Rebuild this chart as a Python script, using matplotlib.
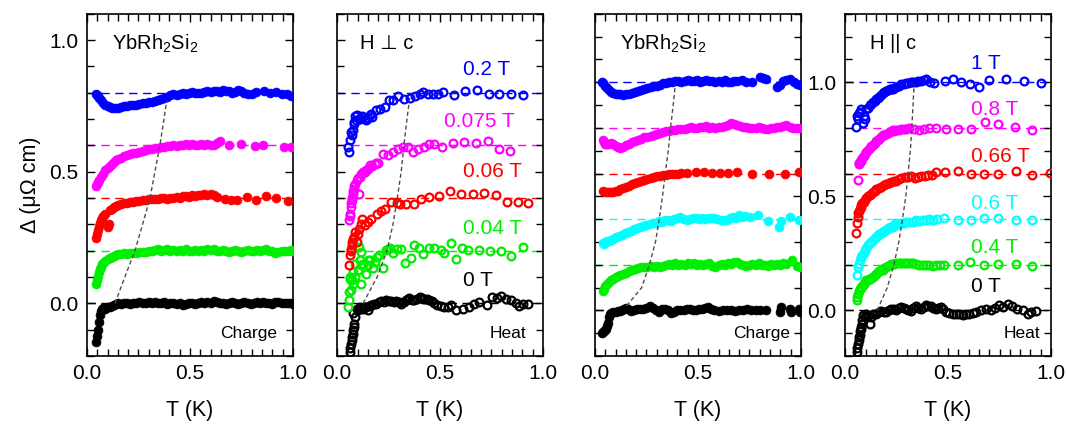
import matplotlib
matplotlib.use("Agg")
import matplotlib.pyplot as plt
from matplotlib.ticker import MultipleLocator

plt.rcParams['font.family'] = ['Liberation Sans', 'DejaVu Sans']
plt.rcParams['mathtext.fontset'] = 'custom'
plt.rcParams['mathtext.rm'] = 'Liberation Sans'
plt.rcParams['mathtext.it'] = 'Liberation Sans:italic'

# ---------------- Panel 1: charge, H perp c (filled) ----------------
T1_dense = [
    0.045, 0.05, 0.055, 0.06, 0.065, 0.07, 0.075, 0.08, 0.09, 0.10,
    0.11, 0.12, 0.13, 0.14, 0.15, 0.165, 0.18, 0.195, 0.21, 0.225,
    0.24, 0.255, 0.27, 0.285, 0.30, 0.315, 0.33, 0.345, 0.36, 0.375,
    0.39, 0.405, 0.42, 0.435, 0.45, 0.465, 0.48, 0.495, 0.51, 0.525,
    0.54, 0.555, 0.57, 0.585, 0.60, 0.615, 0.63, 0.645, 0.66, 0.675,
    0.69, 0.705, 0.72, 0.735, 0.75, 0.765, 0.78, 0.795, 0.81, 0.825,
    0.84, 0.855, 0.87, 0.885, 0.90, 0.915, 0.93, 0.945, 0.96, 0.975,
    0.99, 1.0]
D1_0T = [
    -0.145, -0.125, -0.10, -0.07, -0.045, -0.03, -0.022, -0.018, -0.02, -0.015,
    -0.012, -0.01, -0.008, -0.004, 0.0, -0.002, 0.002, 0.0, -0.004, 0.0,
    0.003, 0.005, 0.0, 0.002, 0.004, 0.0, 0.006, 0.003, 0.0, 0.004,
    -0.002, 0.0, 0.003, -0.004, 0.0, -0.006, -0.003, 0.0, 0.002, -0.003,
    0.0, 0.004, 0.002, 0.006, 0.0, 0.008, 0.004, 0.0, 0.003, -0.003,
    0.0, 0.004, 0.0, -0.004, 0.002, 0.005, 0.0, -0.003, 0.002, 0.004,
    0.0, 0.006, 0.002, 0.0, -0.002, 0.004, 0.006, 0.002, 0.0, 0.003,
    0.0, -0.002]
D1_004T = [
    0.075, 0.09, 0.105, 0.12, 0.13, 0.14, 0.148, 0.155, 0.162, 0.168,
    0.172, 0.176, 0.18, 0.183, 0.186, 0.188, 0.19, 0.188, 0.192, 0.19,
    0.193, 0.195, 0.197, 0.195, 0.2, 0.198, 0.202, 0.205, 0.2, 0.203,
    0.206, 0.2, 0.204, 0.198, 0.202, 0.2, 0.205, 0.198, 0.2, 0.202,
    0.199, 0.203, 0.2, 0.205, 0.202, 0.206, 0.2, 0.198, 0.203, 0.2,
    0.197, 0.2, 0.203, 0.199, 0.196, 0.2, 0.202, 0.198, 0.2, 0.203,
    0.2, 0.204, 0.206, 0.2, 0.198, 0.19, 0.195, 0.2, 0.198, 0.2,
    0.202, 0.2]
T1_006T = [
    0.045, 0.05, 0.055, 0.06, 0.065, 0.07, 0.075, 0.08, 0.09, 0.10,
    0.105, 0.11, 0.12, 0.13, 0.14, 0.15, 0.165, 0.18, 0.195, 0.21,
    0.225, 0.24, 0.255, 0.27, 0.285, 0.30, 0.315, 0.33, 0.345, 0.36,
    0.375, 0.39, 0.405, 0.42, 0.435, 0.45, 0.465, 0.48, 0.495, 0.51,
    0.525, 0.54, 0.555, 0.57, 0.585, 0.60, 0.615, 0.63, 0.67, 0.70,
    0.73, 0.775, 0.82, 0.87, 0.92, 0.975]
D1_006T = [
    0.25, 0.265, 0.28, 0.295, 0.305, 0.315, 0.325, 0.33, 0.34, 0.29,
    0.30, 0.355, 0.36, 0.365, 0.37, 0.373, 0.376, 0.38, 0.383, 0.385,
    0.386, 0.388, 0.39, 0.392, 0.393, 0.395, 0.396, 0.398, 0.397, 0.4,
    0.4, 0.398, 0.402, 0.4, 0.404, 0.402, 0.406, 0.408, 0.405, 0.41,
    0.408, 0.412, 0.41, 0.415, 0.413, 0.416, 0.41, 0.405, 0.395, 0.393,
    0.393, 0.405, 0.393, 0.407, 0.4, 0.39]
T1_0075T = [
    0.045, 0.05, 0.055, 0.06, 0.07, 0.08, 0.09, 0.10, 0.11, 0.12,
    0.13, 0.14, 0.15, 0.165, 0.18, 0.195, 0.21, 0.225, 0.24, 0.255,
    0.27, 0.285, 0.30, 0.315, 0.33, 0.345, 0.36, 0.375, 0.39, 0.405,
    0.42, 0.435, 0.45, 0.465, 0.48, 0.495, 0.51, 0.525, 0.54, 0.555,
    0.57, 0.585, 0.60, 0.615, 0.63, 0.645, 0.69, 0.75, 0.815, 0.855,
    0.955, 0.99]
D1_0075T = [
    0.445, 0.452, 0.46, 0.468, 0.48, 0.492, 0.505, 0.515, 0.522, 0.53,
    0.537, 0.543, 0.548, 0.553, 0.558, 0.562, 0.566, 0.57, 0.573, 0.576,
    0.578, 0.582, 0.585, 0.588, 0.59, 0.592, 0.594, 0.593, 0.596, 0.598,
    0.6, 0.597, 0.602, 0.6, 0.604, 0.6, 0.606, 0.603, 0.6, 0.605,
    0.602, 0.607, 0.603, 0.6, 0.61, 0.616, 0.603, 0.606, 0.596, 0.6,
    0.593, 0.593]
T1_02T = [
    0.045, 0.05, 0.055, 0.06, 0.07, 0.08, 0.09, 0.10, 0.11, 0.12,
    0.135, 0.15, 0.165, 0.18, 0.195, 0.21, 0.225, 0.24, 0.255, 0.27,
    0.285, 0.30, 0.315, 0.33, 0.345, 0.36, 0.375, 0.39, 0.405, 0.42,
    0.435, 0.45, 0.465, 0.48, 0.495, 0.51, 0.525, 0.54, 0.555, 0.57,
    0.585, 0.60, 0.615, 0.63, 0.645, 0.66, 0.675, 0.69, 0.705, 0.72,
    0.735, 0.75, 0.765, 0.78, 0.80, 0.82, 0.86, 0.89, 0.92, 0.945,
    0.97, 0.99]
D1_02T = [
    0.795, 0.792, 0.788, 0.782, 0.772, 0.762, 0.755, 0.75, 0.746, 0.744,
    0.743, 0.744, 0.745, 0.748, 0.75, 0.752, 0.755, 0.754, 0.758, 0.76,
    0.762, 0.765, 0.766, 0.77, 0.773, 0.777, 0.78, 0.785, 0.79, 0.795,
    0.79, 0.796, 0.8, 0.797, 0.8, 0.803, 0.798, 0.801, 0.8, 0.804,
    0.805, 0.802, 0.806, 0.808, 0.803, 0.81, 0.806, 0.805, 0.8, 0.802,
    0.812, 0.808, 0.8, 0.797, 0.796, 0.802, 0.805, 0.8, 0.802, 0.796,
    0.795, 0.786]
TS1_T = [0.136, 0.184, 0.233, 0.27, 0.306, 0.33, 0.354, 0.374, 0.387]
TS1_D = [0.0, 0.1, 0.2, 0.3, 0.4, 0.5, 0.6, 0.7, 0.77]

# ---------------- Panel 2: heat, H perp c (open) ----------------
T2_0T = [
    0.063, 0.065, 0.068, 0.071, 0.074, 0.077, 0.079, 0.082, 0.084, 0.087,
    0.079, 0.095, 0.103, 0.111, 0.119, 0.127, 0.135, 0.143, 0.151, 0.159,
    0.167, 0.179, 0.191, 0.203, 0.215, 0.228, 0.24, 0.252, 0.264, 0.276,
    0.288, 0.30, 0.312, 0.324, 0.336, 0.344, 0.352, 0.364, 0.376, 0.39,
    0.405, 0.415, 0.424, 0.436, 0.448, 0.46, 0.472, 0.488, 0.504, 0.52,
    0.537, 0.554, 0.578, 0.61, 0.643, 0.667, 0.69, 0.731, 0.752, 0.775,
    0.795, 0.82, 0.844, 0.868, 0.884, 0.903, 0.929]
D2_0T = [
    -0.185, -0.17, -0.154, -0.14, -0.128, -0.115, -0.103, -0.09, -0.077, -0.052,
    -0.035, -0.02, -0.025, -0.014, -0.018, -0.02, -0.012, -0.014, -0.027, -0.01,
    -0.008, -0.004, -0.002, 0.004, 0.009, 0.006, 0.011, 0.01, 0.008, 0.006,
    0.009, 0.004, -0.002, 0.006, 0.011, 0.015, 0.021, 0.012, 0.014, 0.018,
    0.024, 0.02, 0.018, 0.016, 0.014, 0.008, 0.001, -0.006, -0.01, -0.012,
    -0.014, -0.008, -0.024, -0.02, -0.014, -0.001, 0.005, -0.008, 0.024, 0.02,
    0.027, 0.018, 0.011, 0.001, -0.011, -0.004, -0.004]
T2_004T = [
    0.055, 0.058, 0.06, 0.068, 0.063, 0.063, 0.074, 0.079, 0.079, 0.087,
    0.09, 0.103, 0.116, 0.111, 0.119, 0.107, 0.119, 0.127, 0.143, 0.151,
    0.151, 0.159, 0.175, 0.183, 0.196, 0.205, 0.224, 0.24, 0.248, 0.256,
    0.272, 0.293, 0.312, 0.329, 0.36, 0.376, 0.40, 0.42, 0.448, 0.472,
    0.504, 0.52, 0.554, 0.578, 0.607, 0.634, 0.69, 0.742, 0.795, 0.847,
    0.903]
D2_004T = [
    -0.014, 0.011, 0.043, 0.049, 0.094, 0.10, 0.087, 0.119, 0.075, 0.151,
    0.10, 0.125, 0.075, 0.164, 0.196, 0.214, 0.144, 0.151, 0.113, 0.145,
    0.163, 0.164, 0.136, 0.158, 0.177, 0.183, 0.136, 0.202, 0.208, 0.209,
    0.19, 0.205, 0.205, 0.155, 0.174, 0.221, 0.209, 0.187, 0.211, 0.209,
    0.202, 0.19, 0.228, 0.17, 0.21, 0.204, 0.204, 0.20, 0.199, 0.179,
    0.214]
T2_006T = [
    0.058, 0.063, 0.066, 0.068, 0.071, 0.074, 0.079, 0.084, 0.09, 0.095,
    0.10, 0.107, 0.115, 0.123, 0.135, 0.151, 0.167, 0.196, 0.215, 0.232,
    0.264, 0.29, 0.304, 0.337, 0.373, 0.409, 0.449, 0.494, 0.549, 0.602,
    0.659, 0.715, 0.771, 0.828, 0.879, 0.929]
D2_006T = [
    0.144, 0.182, 0.20, 0.208, 0.22, 0.233, 0.245, 0.252, 0.27, 0.233,
    0.265, 0.284, 0.30, 0.322, 0.297, 0.309, 0.322, 0.341, 0.35, 0.36,
    0.385, 0.38, 0.376, 0.379, 0.376, 0.398, 0.404, 0.407, 0.427, 0.417,
    0.417, 0.42, 0.411, 0.385, 0.385, 0.383]
T2_0075T = [
    0.06, 0.063, 0.065, 0.066, 0.07, 0.071, 0.075, 0.076, 0.08, 0.082,
    0.085, 0.087, 0.095, 0.10, 0.108, 0.111, 0.118, 0.127, 0.135, 0.143,
    0.15, 0.159, 0.17, 0.184, 0.19, 0.20, 0.224, 0.248, 0.272, 0.296,
    0.32, 0.345, 0.369, 0.393, 0.425, 0.449, 0.473, 0.51, 0.562, 0.618,
    0.675, 0.734, 0.787, 0.839]
D2_0075T = [
    0.316, 0.341, 0.33, 0.366, 0.38, 0.392, 0.40, 0.417, 0.425, 0.436,
    0.445, 0.455, 0.468, 0.475, 0.417, 0.48, 0.49, 0.499, 0.50, 0.506,
    0.51, 0.525, 0.52, 0.531, 0.535, 0.534, 0.569, 0.563, 0.575, 0.588,
    0.594, 0.594, 0.575, 0.588, 0.594, 0.605, 0.607, 0.594, 0.61, 0.613,
    0.61, 0.616, 0.588, 0.579]
T2_02T = [
    0.056, 0.06, 0.063, 0.068, 0.071, 0.076, 0.082, 0.085, 0.09, 0.092,
    0.098, 0.105, 0.111, 0.12, 0.127, 0.135, 0.143, 0.15, 0.159, 0.165,
    0.172, 0.192, 0.208, 0.232, 0.253, 0.272, 0.296, 0.324, 0.353, 0.377,
    0.401, 0.42, 0.441, 0.465, 0.49, 0.514, 0.567, 0.623, 0.68, 0.736,
    0.787, 0.844, 0.903]
D2_02T = [
    0.594, 0.575, 0.62, 0.65, 0.639, 0.658, 0.681, 0.69, 0.71, 0.698,
    0.715, 0.70, 0.702, 0.71, 0.708, 0.70, 0.698, 0.705, 0.715, 0.72,
    0.708, 0.734, 0.74, 0.746, 0.774, 0.772, 0.787, 0.778, 0.782, 0.787,
    0.795, 0.804, 0.795, 0.795, 0.797, 0.804, 0.791, 0.807, 0.81, 0.795,
    0.797, 0.797, 0.791]
TS2_T = [0.127, 0.195, 0.243, 0.272, 0.293, 0.312, 0.325, 0.34, 0.353]
TS2_D = [0.0, 0.1, 0.2, 0.3, 0.4, 0.5, 0.6, 0.7, 0.78]

# ---------------- Panel 3: charge, H || c (filled) ----------------
T3_0T = [
    0.035, 0.04, 0.045, 0.05, 0.055, 0.06, 0.065, 0.07, 0.075, 0.08,
    0.09, 0.10, 0.11, 0.12, 0.13, 0.14, 0.15, 0.16, 0.175, 0.19,
    0.205, 0.22, 0.235, 0.25, 0.265, 0.28, 0.295, 0.31, 0.325, 0.34,
    0.355, 0.37, 0.385, 0.40, 0.415, 0.43, 0.445, 0.46, 0.475, 0.49,
    0.505, 0.52, 0.535, 0.55, 0.565, 0.58, 0.60, 0.62, 0.64, 0.66,
    0.68, 0.70, 0.72, 0.74, 0.76, 0.78, 0.80, 0.83, 0.90, 0.905,
    0.945, 0.95, 0.99, 0.995]
D3_0T = [
    -0.098, -0.095, -0.09, -0.088, -0.08, -0.07, -0.055, -0.03, -0.018, -0.01,
    -0.008, -0.006, -0.004, -0.002, 0.0, 0.005, 0.012, 0.006, -0.002, 0.0,
    0.005, 0.008, 0.004, 0.012, 0.02, 0.01, 0.0, -0.005, 0.005, 0.008,
    0.0, -0.012, -0.008, 0.0, 0.003, 0.0, 0.005, 0.007, 0.002, 0.0,
    0.004, 0.006, 0.01, 0.014, 0.006, 0.0, -0.002, 0.0, 0.0, 0.002,
    -0.004, 0.002, 0.003, 0.005, 0.002, 0.0, 0.0, 0.0, -0.007, 0.015,
    0.007, -0.007, 0.007, -0.007]
T3_04T = [
    0.04, 0.045, 0.05, 0.06, 0.07, 0.08, 0.09, 0.10, 0.11, 0.12,
    0.135, 0.15, 0.165, 0.18, 0.195, 0.21, 0.225, 0.24, 0.255, 0.27,
    0.285, 0.30, 0.315, 0.33, 0.345, 0.36, 0.375, 0.39, 0.405, 0.42,
    0.435, 0.45, 0.465, 0.48, 0.495, 0.51, 0.525, 0.54, 0.555, 0.57,
    0.585, 0.60, 0.615, 0.63, 0.645, 0.66, 0.675, 0.69, 0.705, 0.72,
    0.735, 0.75, 0.765, 0.78, 0.795, 0.81, 0.825, 0.84, 0.855, 0.87,
    0.885, 0.90, 0.915, 0.93, 0.955, 0.98, 0.995]
D3_04T = [
    0.085, 0.095, 0.105, 0.115, 0.125, 0.132, 0.138, 0.145, 0.15, 0.155,
    0.16, 0.165, 0.172, 0.176, 0.18, 0.185, 0.19, 0.188, 0.192, 0.195,
    0.19, 0.193, 0.19, 0.196, 0.2, 0.205, 0.2, 0.207, 0.2, 0.205,
    0.2, 0.208, 0.202, 0.206, 0.2, 0.204, 0.198, 0.202, 0.206, 0.195,
    0.192, 0.2, 0.205, 0.2, 0.208, 0.203, 0.21, 0.213, 0.205, 0.2,
    0.195, 0.2, 0.205, 0.2, 0.206, 0.198, 0.2, 0.195, 0.203, 0.2,
    0.205, 0.2, 0.206, 0.202, 0.22, 0.195, 0.192]
T3_06T = [
    0.04, 0.045, 0.05, 0.06, 0.07, 0.08, 0.09, 0.10, 0.115, 0.13,
    0.145, 0.16, 0.175, 0.19, 0.205, 0.22, 0.235, 0.25, 0.265, 0.28,
    0.295, 0.31, 0.325, 0.34, 0.355, 0.37, 0.385, 0.40, 0.415, 0.43,
    0.445, 0.46, 0.475, 0.49, 0.505, 0.52, 0.535, 0.55, 0.565, 0.58,
    0.595, 0.61, 0.625, 0.64, 0.655, 0.67, 0.685, 0.70, 0.715, 0.73,
    0.752, 0.79, 0.84, 0.895, 0.905, 0.945, 0.99]
D3_06T = [
    0.295, 0.29, 0.30, 0.302, 0.305, 0.31, 0.315, 0.322, 0.325, 0.33,
    0.338, 0.345, 0.35, 0.355, 0.362, 0.366, 0.37, 0.376, 0.38, 0.383,
    0.385, 0.39, 0.388, 0.395, 0.398, 0.392, 0.40, 0.405, 0.41, 0.402,
    0.396, 0.40, 0.404, 0.406, 0.402, 0.404, 0.40, 0.406, 0.403, 0.405,
    0.40, 0.398, 0.396, 0.398, 0.404, 0.41, 0.405, 0.418, 0.41, 0.412,
    0.408, 0.42, 0.39, 0.367, 0.392, 0.41, 0.396]
T3_066T = [
    0.04, 0.05, 0.06, 0.07, 0.08, 0.09, 0.10, 0.11, 0.12, 0.135,
    0.15, 0.165, 0.18, 0.195, 0.21, 0.225, 0.24, 0.255, 0.27, 0.285,
    0.30, 0.315, 0.33, 0.345, 0.36, 0.375, 0.39, 0.405, 0.42, 0.445,
    0.493, 0.529, 0.566, 0.607, 0.647, 0.688, 0.761, 0.846, 0.922, 0.992]
D3_066T = [
    0.522, 0.519, 0.517, 0.518, 0.52, 0.52, 0.522, 0.525, 0.53, 0.535,
    0.54, 0.546, 0.552, 0.558, 0.563, 0.567, 0.572, 0.577, 0.58, 0.584,
    0.587, 0.59, 0.592, 0.595, 0.597, 0.598, 0.60, 0.60, 0.602, 0.602,
    0.605, 0.605, 0.602, 0.602, 0.602, 0.605, 0.599, 0.599, 0.599, 0.605]
T3_08T = [
    0.04, 0.045, 0.05, 0.055, 0.06, 0.07, 0.08, 0.09, 0.10, 0.11,
    0.12, 0.135, 0.15, 0.165, 0.18, 0.195, 0.21, 0.225, 0.24, 0.255,
    0.27, 0.285, 0.30, 0.315, 0.33, 0.345, 0.36, 0.375, 0.39, 0.405,
    0.42, 0.435, 0.45, 0.465, 0.48, 0.495, 0.51, 0.525, 0.54, 0.555,
    0.57, 0.585, 0.60, 0.615, 0.63, 0.645, 0.66, 0.675, 0.69, 0.705,
    0.72, 0.735, 0.75, 0.765, 0.78, 0.795, 0.81, 0.825, 0.84, 0.855,
    0.87, 0.885, 0.90, 0.915, 0.93, 0.945, 0.96, 0.975, 0.99]
D3_08T = [
    0.745, 0.738, 0.73, 0.728, 0.73, 0.73, 0.732, 0.73, 0.72, 0.715,
    0.712, 0.718, 0.725, 0.73, 0.738, 0.742, 0.748, 0.752, 0.758, 0.76,
    0.765, 0.77, 0.772, 0.777, 0.78, 0.785, 0.787, 0.79, 0.792, 0.795,
    0.793, 0.797, 0.80, 0.803, 0.80, 0.798, 0.802, 0.806, 0.808, 0.80,
    0.803, 0.80, 0.806, 0.804, 0.81, 0.812, 0.822, 0.818, 0.812, 0.81,
    0.805, 0.802, 0.80, 0.798, 0.80, 0.803, 0.80, 0.797, 0.795, 0.798,
    0.80, 0.803, 0.805, 0.81, 0.812, 0.806, 0.80, 0.80, 0.798]
T3_1T = [
    0.035, 0.04, 0.05, 0.06, 0.07, 0.08, 0.09, 0.10, 0.11, 0.12,
    0.135, 0.15, 0.165, 0.18, 0.195, 0.21, 0.225, 0.24, 0.255, 0.27,
    0.285, 0.30, 0.315, 0.33, 0.345, 0.36, 0.375, 0.39, 0.405, 0.42,
    0.435, 0.45, 0.465, 0.48, 0.495, 0.51, 0.525, 0.54, 0.555, 0.57,
    0.585, 0.60, 0.615, 0.63, 0.645, 0.66, 0.675, 0.69, 0.712, 0.735,
    0.761, 0.80, 0.815, 0.833, 0.885, 0.90, 0.914, 0.93, 0.947, 0.965,
    0.982, 0.995]
D3_1T = [
    1.0, 0.995, 0.985, 0.975, 0.965, 0.958, 0.953, 0.95, 0.948, 0.947,
    0.946, 0.947, 0.95, 0.953, 0.957, 0.962, 0.966, 0.97, 0.975, 0.978,
    0.983, 0.985, 0.99, 0.995, 0.998, 1.0, 1.002, 1.004, 1.006, 1.0,
    1.004, 1.008, 1.006, 1.004, 1.008, 1.002, 1.006, 1.01, 1.004, 1.006,
    1.0, 1.004, 1.002, 1.008, 1.0, 1.001, 1.006, 1.004, 1.01, 1.003,
    1.001, 1.025, 1.02, 1.013, 0.981, 0.99, 1.006, 1.01, 1.013, 1.0,
    0.991, 0.988]
TS3_T = [0.154, 0.227, 0.264, 0.294, 0.312, 0.328, 0.341, 0.356, 0.367, 0.38, 0.39]
TS3_D = [0.02, 0.1, 0.2, 0.3, 0.4, 0.5, 0.6, 0.7, 0.8, 0.9, 0.99]

# ---------------- Panel 4: heat, H || c (open) ----------------
T4_0T = [
    0.058, 0.06, 0.063, 0.066, 0.069, 0.071, 0.074, 0.077, 0.079, 0.082,
    0.084, 0.087, 0.095, 0.103, 0.111, 0.119, 0.127, 0.135, 0.151, 0.163,
    0.175, 0.187, 0.20, 0.212, 0.224, 0.236, 0.248, 0.26, 0.272, 0.284,
    0.296, 0.308, 0.32, 0.332, 0.344, 0.356, 0.369, 0.381, 0.393, 0.405,
    0.417, 0.429, 0.441, 0.453, 0.465, 0.478, 0.49, 0.506, 0.522, 0.538,
    0.554, 0.572, 0.588, 0.604, 0.62, 0.636, 0.66, 0.684, 0.709, 0.727,
    0.746, 0.768, 0.792, 0.813, 0.837, 0.862, 0.886, 0.902, 0.926]
D4_0T = [
    -0.184, -0.165, -0.147, -0.13, -0.118, -0.11, -0.092, -0.08, -0.074, -0.06,
    -0.044, -0.022, -0.03, -0.015, -0.025, -0.059, -0.03, -0.015, -0.015, -0.008,
    -0.003, -0.006, -0.007, 0.0, 0.007, 0.004, 0.003, 0.009, 0.015, 0.01,
    0.007, 0.002, -0.003, 0.01, 0.018, 0.012, 0.007, 0.015, 0.022, 0.02,
    0.018, 0.012, 0.007, 0.011, 0.015, 0.004, -0.007, -0.01, -0.015, -0.016,
    -0.015, -0.022, -0.018, -0.015, -0.012, -0.006, 0.0, 0.007, 0.0, 0.012,
    0.022, 0.015, 0.026, 0.018, 0.007, 0.0, -0.018, -0.007, -0.003]
T4_04T = [
    0.058, 0.06, 0.063, 0.067, 0.071, 0.075, 0.079, 0.085, 0.09, 0.097,
    0.103, 0.111, 0.119, 0.127, 0.135, 0.143, 0.151, 0.159, 0.167, 0.175,
    0.183, 0.191, 0.20, 0.208, 0.216, 0.224, 0.232, 0.24, 0.248, 0.26,
    0.272, 0.284, 0.296, 0.308, 0.32, 0.332, 0.344, 0.36, 0.377, 0.393,
    0.409, 0.425, 0.441, 0.46, 0.48, 0.548, 0.607, 0.676, 0.741, 0.829,
    0.91]
D4_04T = [
    0.044, 0.06, 0.073, 0.085, 0.095, 0.10, 0.103, 0.11, 0.117, 0.125,
    0.132, 0.135, 0.139, 0.143, 0.147, 0.153, 0.161, 0.167, 0.173, 0.176,
    0.179, 0.184, 0.188, 0.193, 0.198, 0.202, 0.205, 0.203, 0.206, 0.208,
    0.209, 0.207, 0.209, 0.208, 0.209, 0.206, 0.203, 0.201, 0.198, 0.20,
    0.198, 0.196, 0.198, 0.199, 0.198, 0.198, 0.213, 0.198, 0.203, 0.203,
    0.195]
T4_06T = [
    0.058, 0.063, 0.067, 0.071, 0.077, 0.084, 0.09, 0.095, 0.103, 0.111,
    0.119, 0.127, 0.135, 0.143, 0.151, 0.159, 0.167, 0.175, 0.183, 0.191,
    0.20, 0.208, 0.216, 0.224, 0.232, 0.24, 0.248, 0.26, 0.272, 0.284,
    0.296, 0.312, 0.328, 0.344, 0.36, 0.377, 0.393, 0.409, 0.425, 0.445,
    0.481, 0.548, 0.612, 0.676, 0.741, 0.829, 0.91]
D4_06T = [
    0.154, 0.191, 0.205, 0.22, 0.232, 0.242, 0.253, 0.264, 0.275, 0.286,
    0.294, 0.301, 0.308, 0.316, 0.323, 0.33, 0.336, 0.34, 0.345, 0.348,
    0.352, 0.36, 0.367, 0.364, 0.367, 0.374, 0.382, 0.38, 0.385, 0.384,
    0.389, 0.386, 0.389, 0.394, 0.392, 0.397, 0.395, 0.40, 0.397, 0.40,
    0.404, 0.397, 0.396, 0.404, 0.404, 0.396, 0.396]
T4_066T = [
    0.055, 0.058, 0.061, 0.063, 0.067, 0.071, 0.075, 0.079, 0.084, 0.09,
    0.097, 0.103, 0.111, 0.119, 0.127, 0.135, 0.143, 0.151, 0.163, 0.175,
    0.187, 0.20, 0.212, 0.224, 0.236, 0.248, 0.262, 0.274, 0.29, 0.306,
    0.322, 0.338, 0.354, 0.37, 0.386, 0.403, 0.42, 0.44, 0.483, 0.548,
    0.612, 0.676, 0.741, 0.829, 0.91, 0.994]
D4_066T = [
    0.338, 0.385, 0.41, 0.425, 0.435, 0.443, 0.452, 0.462, 0.47, 0.477,
    0.485, 0.492, 0.50, 0.507, 0.512, 0.517, 0.525, 0.532, 0.538, 0.543,
    0.549, 0.555, 0.558, 0.561, 0.565, 0.568, 0.575, 0.58, 0.583, 0.585,
    0.59, 0.58, 0.586, 0.587, 0.59, 0.595, 0.593, 0.605, 0.605, 0.609,
    0.599, 0.599, 0.599, 0.609, 0.595, 0.602]
T4_08T = [
    0.063, 0.066, 0.068, 0.071, 0.075, 0.079, 0.084, 0.09, 0.097, 0.103,
    0.111, 0.119, 0.127, 0.135, 0.143, 0.151, 0.159, 0.167, 0.175, 0.183,
    0.191, 0.20, 0.208, 0.216, 0.224, 0.232, 0.24, 0.248, 0.26, 0.272,
    0.284, 0.296, 0.312, 0.336, 0.36, 0.385, 0.409, 0.441, 0.489, 0.546,
    0.612, 0.681, 0.744, 0.826, 0.91]
D4_08T = [
    0.573, 0.64, 0.646, 0.652, 0.655, 0.661, 0.668, 0.675, 0.685, 0.693,
    0.702, 0.712, 0.72, 0.727, 0.735, 0.742, 0.747, 0.752, 0.76, 0.767,
    0.77, 0.775, 0.778, 0.781, 0.786, 0.79, 0.788, 0.79, 0.792, 0.793,
    0.797, 0.795, 0.80, 0.793, 0.79, 0.795, 0.80, 0.80, 0.795, 0.793,
    0.793, 0.825, 0.815, 0.805, 0.789]
T4_1T = [
    0.055, 0.058, 0.063, 0.068, 0.074, 0.079, 0.085, 0.09, 0.095, 0.103,
    0.111, 0.119, 0.127, 0.135, 0.143, 0.151, 0.159, 0.167, 0.175, 0.183,
    0.191, 0.20, 0.208, 0.216, 0.224, 0.232, 0.24, 0.248, 0.26, 0.272,
    0.284, 0.296, 0.308, 0.32, 0.332, 0.344, 0.356, 0.369, 0.381, 0.393,
    0.412, 0.433, 0.483, 0.523, 0.564, 0.609, 0.652, 0.697, 0.781, 0.87,
    0.95]
D4_1T = [
    0.805, 0.852, 0.84, 0.866, 0.87, 0.881, 0.82, 0.85, 0.837, 0.881,
    0.888, 0.899, 0.905, 0.913, 0.919, 0.925, 0.93, 0.937, 0.944, 0.951,
    0.956, 0.962, 0.966, 0.969, 0.97, 0.972, 0.977, 0.981, 0.985, 0.991,
    0.994, 0.998, 0.999, 1.001, 1.0, 1.001, 1.004, 1.006, 1.008, 1.013,
    1.001, 0.998, 1.006, 1.013, 1.001, 0.991, 0.981, 1.01, 1.013, 1.006,
    0.999]
TS4_T = [0.156, 0.205, 0.237, 0.261, 0.279, 0.295, 0.306, 0.317, 0.324, 0.33, 0.335]
TS4_D = [0.0, 0.1, 0.2, 0.3, 0.4, 0.5, 0.6, 0.7, 0.8, 0.9, 0.99]

# ---------------- labels ----------------
fields_perp = ["0 T", "0.04 T", "0.06 T", "0.075 T", "0.2 T"]
fields_par = ["0 T", "0.4 T", "0.6 T", "0.66 T", "0.8 T", "1 T"]
offsets_perp = [0.0, 0.2, 0.4, 0.6, 0.8]
offsets_par = [0.0, 0.2, 0.4, 0.6, 0.8, 1.0]
colors_perp = ["black", "#00ee00", "red", "magenta", "blue"]
colors_par = ["black", "#00ee00", "cyan", "red", "magenta", "blue"]

panel1 = [(T1_dense, D1_0T), (T1_dense, D1_004T), (T1_006T, D1_006T),
          (T1_0075T, D1_0075T), (T1_02T, D1_02T)]
panel2 = [(T2_0T, D2_0T), (T2_004T, D2_004T), (T2_006T, D2_006T),
          (T2_0075T, D2_0075T), (T2_02T, D2_02T)]
panel3 = [(T3_0T, D3_0T), (T3_04T, D3_04T), (T3_06T, D3_06T),
          (T3_066T, D3_066T), (T3_08T, D3_08T), (T3_1T, D3_1T)]
panel4 = [(T4_0T, D4_0T), (T4_04T, D4_04T), (T4_06T, D4_06T),
          (T4_066T, D4_066T), (T4_08T, D4_08T), (T4_1T, D4_1T)]

fig = plt.figure(figsize=(10.67, 4.25), dpi=100)
W, H, B = 0.193, 0.805, 0.1624
lefts = [0.0815, 0.3158, 0.5576, 0.792]
axs = [fig.add_axes([l, B, W, H]) for l in lefts]

specs = [
    (axs[0], panel1, colors_perp, offsets_perp, True, (-0.2, 1.1), (TS1_T, TS1_D)),
    (axs[1], panel2, colors_perp, offsets_perp, False, (-0.2, 1.1), (TS2_T, TS2_D)),
    (axs[2], panel3, colors_par, offsets_par, True, (-0.2, 1.3), (TS3_T, TS3_D)),
    (axs[3], panel4, colors_par, offsets_par, False, (-0.2, 1.3), (TS4_T, TS4_D)),
]

for ax, series, cols, offs, filled, ylim, ts in specs:
    for off, c in zip(offs, cols):
        ax.axhline(off, color=c, lw=1.0, dashes=(6, 4), zorder=1)
    for (t, d), c in zip(series, cols):
        if filled:
            ax.plot(t, d, 'o', color=c, ms=6.4, mec=c, mew=0.5, zorder=3)
        else:
            ax.plot(t, d, 'o', mfc='none', mec=c, ms=5.6, mew=1.6, zorder=3)
    ax.plot(ts[0], ts[1], color='0.3', lw=1.0, dashes=(3, 2), zorder=4)
    ax.set_xlim(0, 1.0)
    ax.set_ylim(*ylim)
    ax.xaxis.set_major_locator(MultipleLocator(0.5))
    ax.xaxis.set_minor_locator(MultipleLocator(0.05))
    ax.yaxis.set_major_locator(MultipleLocator(0.5))
    ax.yaxis.set_minor_locator(MultipleLocator(0.1))
    ax.tick_params(which='both', direction='in', top=True, right=True,
                   labelsize=15, width=1.0, pad=6)
    ax.tick_params(which='major', length=6)
    ax.tick_params(which='minor', length=5)
    ax.xaxis.set_major_formatter(plt.FuncFormatter(lambda v, p: f"{v:.1f}"))
    ax.yaxis.set_major_formatter(plt.FuncFormatter(lambda v, p: f"{v:.1f}"))
    for s in ax.spines.values():
        s.set_linewidth(1.2)
    ax.set_xlabel("T (K)", fontsize=15.5, labelpad=12)

axs[1].tick_params(labelleft=False)
axs[2].tick_params(labelleft=False)
axs[0].set_ylabel("Δ (μΩ cm)", fontsize=15.5, labelpad=6)

axs[0].text(0.12, 0.912, "YbRh$_2$Si$_2$", transform=axs[0].transAxes,
            fontsize=14.5, va='center', ha='left')
axs[1].text(0.11, 0.912, "H ⊥ c", transform=axs[1].transAxes,
            fontsize=14.5, va='center', ha='left')
axs[2].text(0.12, 0.912, "YbRh$_2$Si$_2$", transform=axs[2].transAxes,
            fontsize=14.5, va='center', ha='left')
axs[3].text(0.12, 0.912, "H || c", transform=axs[3].transAxes,
            fontsize=14.5, va='center', ha='left')

axs[0].text(0.925, 0.067, "Charge", transform=axs[0].transAxes,
            fontsize=12.5, va='center', ha='right')
axs[1].text(0.92, 0.067, "Heat", transform=axs[1].transAxes,
            fontsize=12.5, va='center', ha='right')
axs[2].text(0.95, 0.067, "Charge", transform=axs[2].transAxes,
            fontsize=12.5, va='center', ha='right')
axs[3].text(0.95, 0.067, "Heat", transform=axs[3].transAxes,
            fontsize=12.5, va='center', ha='right')

xpos_perp = [0.61, 0.61, 0.61, 0.52, 0.61]
ypos_perp = [0.222, 0.374, 0.538, 0.684, 0.836]
for lab, c, x, y in zip(fields_perp, colors_perp, xpos_perp, ypos_perp):
    axs[1].text(x, y, lab, color=c, transform=axs[1].transAxes,
                fontsize=15, va='center', ha='left')
ypos_par = [0.202, 0.316, 0.447, 0.582, 0.719, 0.854]
for lab, c, y in zip(fields_par, colors_par, ypos_par):
    axs[3].text(0.61, y, lab, color=c, transform=axs[3].transAxes,
                fontsize=15, va='center', ha='left')

fig.savefig("out.png", dpi=100)
